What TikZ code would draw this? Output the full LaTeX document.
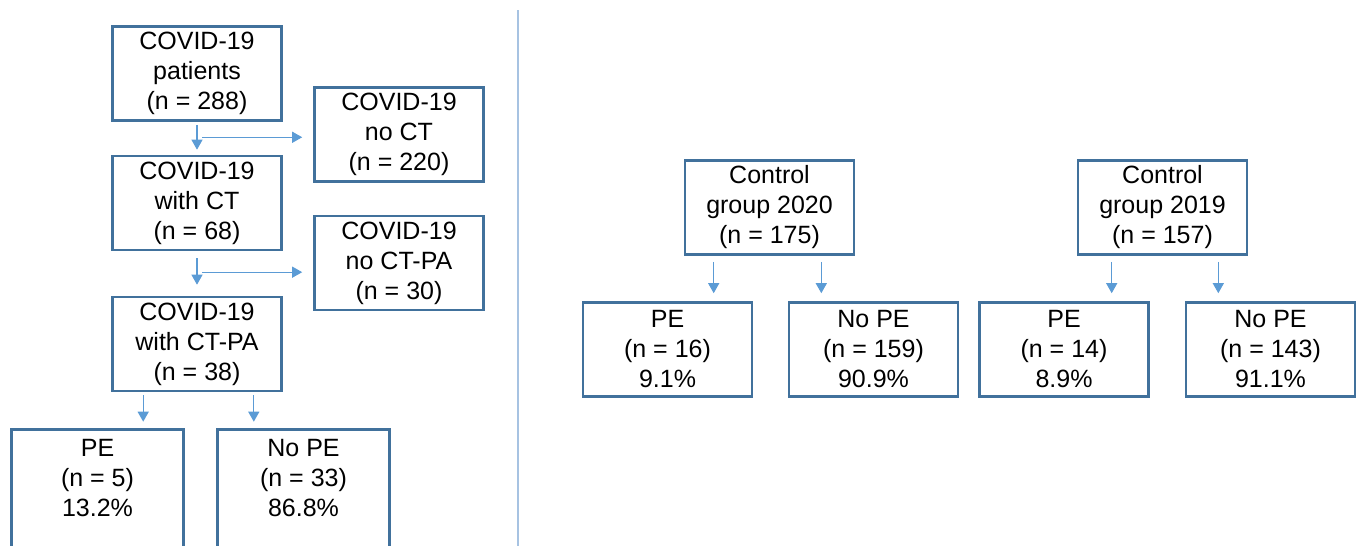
\documentclass[tikz,border=0pt]{standalone}
\usepackage{fontspec}
\setmainfont{Liberation Sans}
\usetikzlibrary{arrows.meta,calc}
\definecolor{boxblue}{HTML}{41719C}
\definecolor{arrblue}{HTML}{5B9BD5}
\definecolor{divblue}{HTML}{A7C3E2}
\begin{document}
\begin{tikzpicture}[x=1pt,y=-1pt,
  box/.style={draw=boxblue,line width=2.6pt,minimum width=169pt,minimum height=94pt,
    inner sep=0pt,align=center,font=\fontsize{25}{30}\selectfont},
  openbox/.style={box,draw=none},
  boxline/.style={draw=boxblue,line width=2.6pt},
  conn/.style={draw=arrblue,line width=1.2pt,-{Triangle[width=11pt,length=10pt]}}]
\useasboundingbox (0,0) rectangle (1357,546);
% left panel
\node[box] (pat) at (197,73.5) {COVID-19\\patients\\(n = 288)};
\node[box] (noct) at (399,134.5) {COVID-19\\no CT\\(n = 220)};
\node[box] (ct) at (197,203) {COVID-19\\with CT\\(n = 68)};
\node[box] (noctpa) at (399,263) {COVID-19\\no CT-PA\\(n = 30)};
\node[box] (ctpa) at (197,344) {COVID-19\\with CT-PA\\(n = 38)};
\node[openbox] (pe1) at (97.5,478) {PE\\(n = 5)\\13.2\%};
\node[openbox] (nope1) at (303.5,478) {No PE\\(n = 33)\\86.8\%};
\draw[boxline] (pe1.south west |- 0,560) |- (pe1.north east) -- (pe1.east |- 0,560);
\draw[boxline] (nope1.south west |- 0,560) |- (nope1.north east) -- (nope1.east |- 0,560);
% divider
\coordinate (dtop) at (518,10);
\coordinate (dbot) at (518,546);
\draw[divblue,line width=1.5pt] (dtop) -- (dbot);
% left arrows
\draw[conn,shorten <=3pt,shorten >=5pt] (pat.south) -- (ct.north);
\coordinate (m1) at ($(pat.south)!0.47!(ct.north)+(5,0)$);
\draw[conn,shorten >=11pt] (m1) -- (m1 -| noct.west);
\draw[conn,shorten <=7pt,shorten >=11pt] (ct.south) -- (ctpa.north);
\coordinate (m2) at ($(ct.south)!0.47!(ctpa.north)+(5,0)$);
\draw[conn,shorten >=11pt] (m2) -- (m2 -| noctpa.west);
\coordinate (a1) at ($(ctpa.south west)+(32,0)$);
\coordinate (a2) at ($(ctpa.south east)+(-29,0)$);
\draw[conn,shorten <=3pt,shorten >=8pt] (a1) -- (a1 |- pe1.north);
\draw[conn,shorten <=3pt,shorten >=8pt] (a2) -- (a2 |- nope1.north);
% right panel
\node[box] (c20) at (769.5,207.5) {Control\\group 2020\\(n = 175)};
\node[box] (pe20) at (667.5,349.5) {PE\\(n = 16)\\9.1\%};
\node[box] (nope20) at (873.5,349.5) {No PE\\(n = 159)\\90.9\%};
\node[box] (c19) at (1162.5,207.5) {Control\\group 2019\\(n = 157)};
\node[box] (pe19) at (1064,349.5) {PE\\(n = 14)\\8.9\%};
\node[box] (nope19) at (1270.5,349.5) {No PE\\(n = 143)\\91.1\%};
\coordinate (b1) at ($(c20.south west)+(30,0)$);
\coordinate (b2) at ($(c20.south east)+(-34,0)$);
\coordinate (b3) at ($(c19.south west)+(35,0)$);
\coordinate (b4) at ($(c19.south east)+(-30,0)$);
\draw[conn,shorten <=6pt,shorten >=8pt] (b1) -- (b1 |- pe20.north);
\draw[conn,shorten <=6pt,shorten >=8pt] (b2) -- (b2 |- nope20.north);
\draw[conn,shorten <=6pt,shorten >=8pt] (b3) -- (b3 |- pe19.north);
\draw[conn,shorten <=6pt,shorten >=8pt] (b4) -- (b4 |- nope19.north);
\end{tikzpicture}
\end{document}
